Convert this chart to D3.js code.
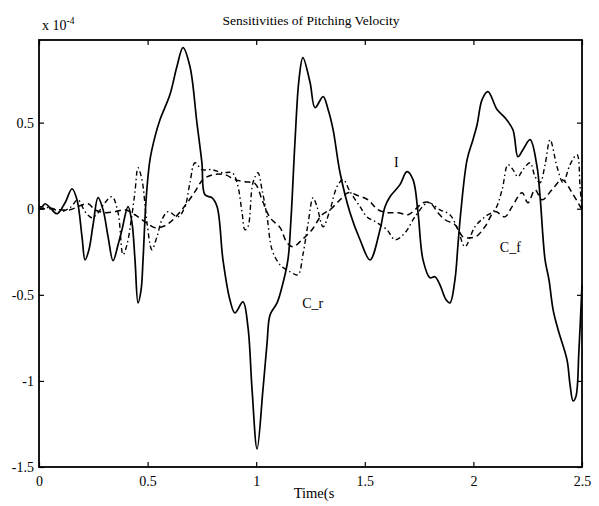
<!DOCTYPE html>
<html><head><meta charset="utf-8">
<script src="https://cdn.jsdelivr.net/npm/d3@7"></script>
<style>body{margin:0;background:#fff}svg{display:block}text{font-family:"Liberation Serif","Times New Roman",serif;fill:#000}</style>
</head><body><svg id="c" width="599" height="506"></svg>
<script>
const title = "Sensitivities of Pitching Velocity";
const xLabel = "Time(s";
const xTicks = [0, 0.5, 1, 1.5, 2, 2.5];
const xTickLabels = ["0", "0.5", "1", "1.5", "2", "2.5"];
const yTicks = [-1.5, -1, -0.5, 0, 0.5];
const yTickLabels = ["-1.5", "-1", "-0.5", "0", "0.5"];
const xDomain = [0, 2.5];
const yDomain = [-1.5, 0.98];

// Solid curve (I)
const tI = [0,0.014,0.028,0.051,0.083,0.120,0.152,0.175,0.198,0.212,0.230,0.249,0.272,0.295,0.318,0.341,0.364,0.382,0.410,0.428,0.442,0.456,0.470,0.479,0.493,0.511,0.534,0.557,0.603,0.635,0.663,0.695,0.727,0.750,0.764,0.796,0.820,0.847,0.879,0.902,0.939,0.962,0.981,1.004,1.031,1.050,1.064,1.096,1.119,1.146,1.160,1.179,1.197,1.215,1.248,1.271,1.308,1.331,1.354,1.386,1.432,1.478,1.524,1.570,1.593,1.616,1.662,1.694,1.722,1.745,1.768,1.800,1.823,1.846,1.874,1.892,1.915,1.929,1.943,1.971,1.998,2.017,2.040,2.067,2.109,2.145,2.182,2.205,2.228,2.261,2.293,2.307,2.330,2.348,2.367,2.390,2.431,2.445,2.459,2.472,2.486,2.500];
const vI = [0.012,0.012,0.029,0.006,-0.029,0.035,0.116,0.052,-0.163,-0.297,-0.238,-0.093,0.064,-0.006,-0.163,-0.302,-0.209,-0.122,0.012,-0.081,-0.297,-0.547,-0.471,-0.297,0.052,0.285,0.419,0.517,0.663,0.826,0.936,0.826,0.500,0.267,0.081,0.064,0.012,-0.297,-0.529,-0.605,-0.541,-0.686,-1.052,-1.395,-1.052,-0.779,-0.616,-0.547,-0.453,-0.297,-0.064,0.401,0.750,0.878,0.733,0.587,0.651,0.576,0.459,0.209,-0.023,-0.180,-0.297,-0.122,0.012,0.070,0.140,0.215,0.169,-0.023,-0.297,-0.401,-0.395,-0.442,-0.529,-0.547,-0.413,-0.209,-0.006,0.285,0.401,0.488,0.634,0.680,0.576,0.529,0.459,0.302,0.343,0.401,0.244,0.070,-0.297,-0.413,-0.587,-0.703,-0.878,-1.023,-1.116,-1.090,-0.820,-0.442];

// Dashed curve (C_f)
const tF = [0,0.051,0.097,0.143,0.189,0.226,0.258,0.304,0.350,0.396,0.442,0.488,0.534,0.580,0.626,0.672,0.718,0.755,0.801,0.856,0.902,0.948,0.995,1.027,1.064,1.110,1.142,1.169,1.211,1.257,1.303,1.340,1.386,1.423,1.469,1.515,1.561,1.607,1.653,1.699,1.731,1.768,1.800,1.837,1.869,1.915,1.952,1.984,2.017,2.053,2.099,2.145,2.178,2.224,2.251,2.284,2.316,2.362,2.408,2.454,2.500];
const vF = [0,0,-0.006,-0.006,0.017,0.029,-0.006,-0.023,-0.017,-0.006,-0.035,-0.076,-0.110,-0.099,-0.052,0.017,0.099,0.169,0.198,0.198,0.169,0.157,0.145,0.052,-0.052,-0.110,-0.198,-0.221,-0.180,-0.122,-0.035,-0.006,0.052,0.093,0.076,0.052,-0.006,-0.023,-0.023,-0.035,-0.006,0.035,0.035,-0.023,-0.064,-0.093,-0.163,-0.169,-0.157,-0.105,-0.017,-0.047,0.012,0.093,0.035,0.110,0.052,0.110,0.169,0.093,-0.006];

// Dash-dot curve (C_r)
const tR = [0,0.051,0.097,0.143,0.179,0.212,0.244,0.272,0.304,0.336,0.364,0.387,0.405,0.428,0.442,0.456,0.474,0.497,0.520,0.543,0.566,0.594,0.640,0.672,0.695,0.718,0.750,0.796,0.843,0.889,0.912,0.935,0.948,0.962,0.985,1.008,1.027,1.050,1.073,1.110,1.156,1.192,1.215,1.238,1.262,1.280,1.308,1.340,1.372,1.400,1.432,1.478,1.510,1.556,1.602,1.639,1.685,1.731,1.791,1.846,1.892,1.929,1.961,2.007,2.053,2.099,2.132,2.159,2.182,2.205,2.228,2.261,2.284,2.307,2.330,2.353,2.385,2.413,2.445,2.477,2.491,2.500];
const vR = [0,0.006,-0.017,0.006,0.052,-0.017,-0.052,-0.023,0.035,0.070,-0.023,-0.267,-0.209,-0.035,0.099,0.238,0.169,-0.081,-0.238,-0.163,-0.064,-0.017,-0.047,0.012,0.151,0.267,0.227,0.227,0.209,0.209,0.151,-0.023,-0.122,-0.105,0.151,0.209,0.110,-0.047,-0.238,-0.326,-0.366,-0.384,-0.267,-0.093,0.064,0.012,-0.105,-0.006,0.128,0.169,0.099,0.012,-0.047,-0.081,-0.122,-0.180,-0.140,-0.047,0.035,-0.006,-0.035,-0.122,-0.221,-0.105,-0.047,-0.006,0.110,0.256,0.227,0.186,0.227,0.267,0.186,0.151,0.256,0.401,0.244,0.151,0.256,0.314,0.128,-0.006];

const labelText = ["I", "C_f", "C_r"];
const labelT = [1.645, 2.17, 1.26];
const labelV = [0.27, -0.22, -0.55];

const svg = d3.select("#c");
const L = 39, R = 582, T = 40, B = 467;
const x = d3.scaleLinear().domain(xDomain).range([L, R]);
const y = d3.scaleLinear().domain(yDomain).range([B, T]);

const series = [
  {t: tI, v: vI, dash: null, w: 1.7},
  {t: tF, v: vF, dash: "6,4", w: 1.5},
  {t: tR, v: vR, dash: "5,3,1.5,3", w: 1.4}
];
const line = d3.line().x(d => x(d[0])).y(d => y(d[1])).curve(d3.curveCatmullRom.alpha(0.5));
const g = svg.append("g");
series.forEach(s => {
  g.append("path").datum(s.t.map((t, i) => [t, s.v[i]]))
    .attr("d", line).attr("fill", "none").attr("stroke", "#000")
    .attr("stroke-width", s.w).attr("stroke-dasharray", s.dash);
});

// axes
const ax = svg.append("g").attr("transform", `translate(0,${B})`)
  .call(d3.axisBottom(x).tickValues(xTicks).tickFormat((d, i) => xTickLabels[i]).tickSizeInner(-5).tickSizeOuter(0).tickPadding(9));
const axT = svg.append("g").attr("transform", `translate(0,${T})`)
  .call(d3.axisTop(x).tickValues(xTicks).tickFormat("").tickSizeInner(-5).tickSizeOuter(0));
const ay = svg.append("g").attr("transform", `translate(${L},0)`)
  .call(d3.axisLeft(y).tickValues(yTicks).tickFormat((d, i) => yTickLabels[i]).tickSizeInner(-5).tickSizeOuter(0).tickPadding(5));
const ayR = svg.append("g").attr("transform", `translate(${R},0)`)
  .call(d3.axisRight(y).tickValues(yTicks).tickFormat("").tickSizeInner(-5).tickSizeOuter(0));
[ax, axT, ay, ayR].forEach(a => {
  a.selectAll("path").remove();
  a.selectAll("line").attr("stroke", "#000").attr("stroke-width", 1.2);
  a.selectAll("text").style("font-family", '"Liberation Serif", serif').style("font-size", "14px");
});
svg.append("rect").attr("x", L).attr("y", T).attr("width", R - L).attr("height", B - T)
  .attr("fill", "none").attr("stroke", "#000").attr("stroke-width", 1.8);

// texts
svg.append("text").attr("x", 311).attr("y", 25).attr("text-anchor", "middle").style("font-size", "13.5px").text(title);
svg.append("text").attr("x", 314).attr("y", 498).attr("text-anchor", "middle").style("font-size", "14.5px").text(xLabel);
const ex = svg.append("text").attr("x", 42).attr("y", 30).style("font-size", "14px");
ex.append("tspan").text("x 10");
ex.append("tspan").attr("dy", -6).style("font-size", "9.5px").text("-4");

labelText.forEach((s, i) => {
  svg.append("text").attr("x", x(labelT[i])).attr("y", y(labelV[i]))
    .attr("text-anchor", "middle").attr("dy", "0.35em").style("font-size", "14px").text(s);
});
</script></body></html>
